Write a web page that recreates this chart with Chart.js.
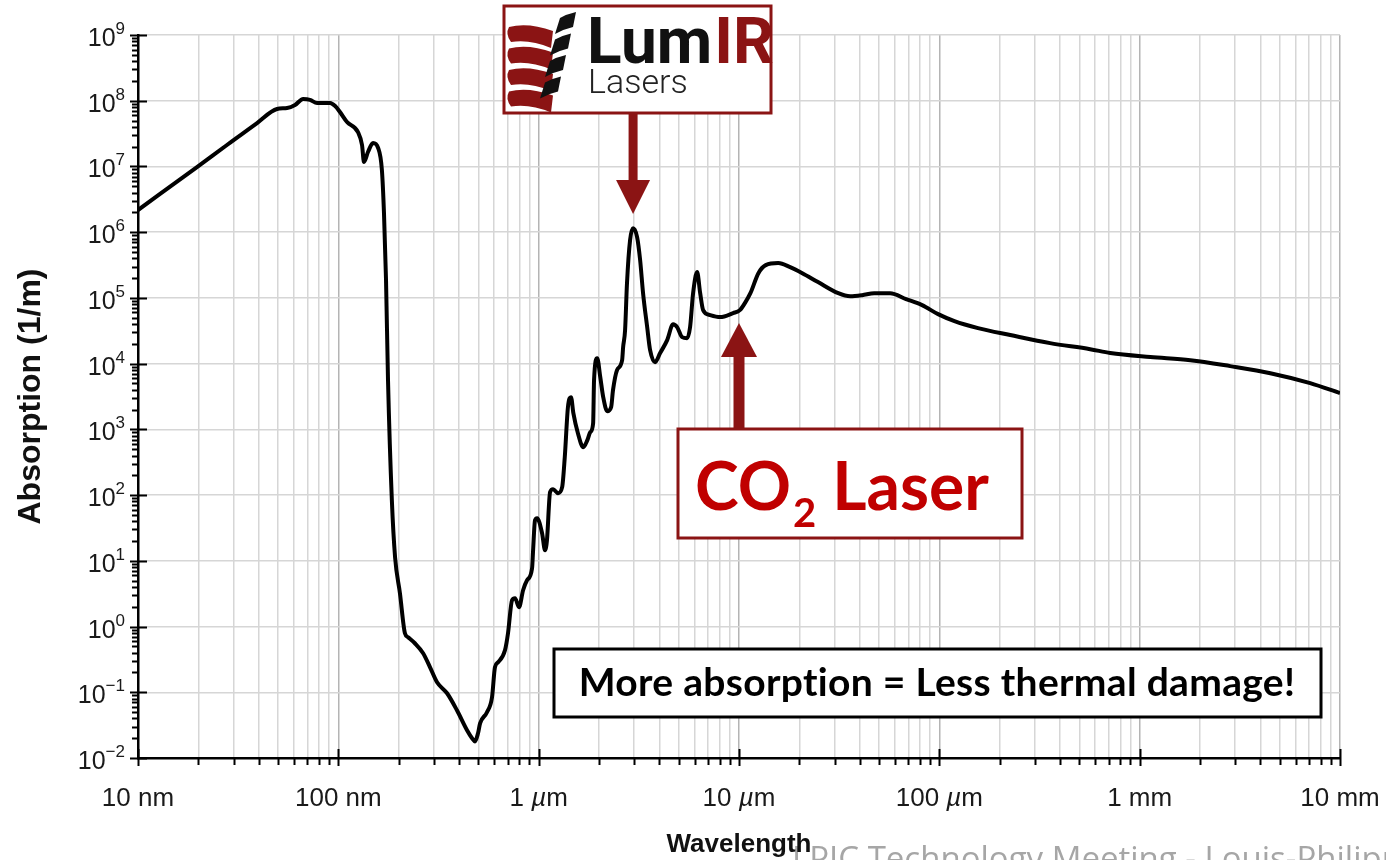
<!DOCTYPE html>
<html>
<head>
<meta charset="utf-8">
<script src="https://cdn.jsdelivr.net/npm/chart.js@4.4.1/dist/chart.umd.min.js"></script>
<style>
html, body { margin: 0; padding: 0; background: #fff; }
canvas { display: block; }
</style>
</head>
<body>
<canvas id="absorptionChart" width="1386" height="860"></canvas>
<script>
// wavelength in micrometres, absorption coefficient in 1/m
const wavelengths = [
    0.01, 0.0197, 0.0278, 0.0393, 0.0494, 0.0555, 0.0608, 0.0667, 0.0722, 0.0783,
    0.0910, 0.0964, 0.1019, 0.1105, 0.1253, 0.1313, 0.1343, 0.1406, 0.149, 0.158,
    0.165, 0.169, 0.173, 0.177, 0.185, 0.192, 0.203, 0.215, 0.223, 0.241,
    0.265, 0.287, 0.311, 0.349, 0.391, 0.439, 0.465, 0.481, 0.498, 0.510,
    0.552, 0.585, 0.605, 0.627, 0.679, 0.703, 0.736, 0.762, 0.798, 0.836,
    0.875, 0.927, 0.938, 0.959, 0.982, 1.04, 1.076, 1.10, 1.14, 1.18,
    1.25, 1.31, 1.35, 1.40, 1.45, 1.49, 1.57, 1.67, 1.75, 1.81,
    1.87, 1.89, 1.96, 2.03, 2.10, 2.20, 2.30, 2.35, 2.46, 2.61,
    2.64, 2.70, 2.76, 2.86, 2.96, 3.10, 3.21, 3.32, 3.48, 3.60,
    3.81, 4.04, 4.38, 4.69, 4.91, 5.20, 5.51, 5.70, 5.90, 6.18,
    6.40, 6.62, 7.18, 8.05, 9.35, 10.1, 10.7, 11.4, 12.5, 13.6,
    15.7, 18.0, 20.7, 24.8, 31.3, 35.9, 41.2, 47.3, 56.8, 68.2,
    82.0, 98.6, 119, 156, 226, 357, 566, 713, 1130, 1790,
    2830, 4490, 7100, 10000
];
const absorption = [
    2.17e6, 9.8e6, 2.12e7, 4.58e7, 7.48e7, 7.74e7, 8.61e7, 1.06e8, 1.03e8, 9.23e7,
    9.23e7, 8.30e7, 6.73e7, 4.74e7, 3.34e7, 2.12e7, 1.17e7, 1.66e7, 2.27e7, 1.91e7,
    8.81e6, 1.95e6, 1.87e5, 5.61e3, 83.6, 11.3, 3.21, 0.791, 0.687, 0.557,
    0.393, 0.240, 0.142, 0.0966, 0.0532, 0.0264, 0.0200, 0.0179, 0.0238, 0.0337,
    0.0497, 0.0839, 0.240, 0.286, 0.436, 0.791, 2.51, 2.70, 1.97, 3.57,
    5.07, 7.71, 14.5, 41.5, 44.5, 26.3, 14.5, 20.6, 111, 123,
    107, 132, 378, 2.18e3, 3.09e3, 1.77e3, 875, 536, 685, 906,
    1.24e3, 5.61e3, 1.21e4, 6.23e3, 3.09e3, 1.89e3, 2.18e3, 3.95e3, 7.96e3, 1.13e4,
    1.78e4, 3.24e4, 1.68e5, 7.59e5, 1.15e6, 8.42e5, 3.76e5, 1.18e5, 3.60e4, 1.60e4,
    1.05e4, 1.45e4, 2.28e4, 3.99e4, 3.60e4, 2.53e4, 2.44e4, 3.60e4, 1.18e5, 2.47e5,
    1.18e5, 6.52e4, 5.47e4, 5.11e4, 5.87e4, 6.52e4, 8.34e4, 1.18e5, 2.38e5, 3.15e5,
    3.39e5, 2.94e5, 2.38e5, 1.74e5, 1.18e5, 1.06e5, 1.10e5, 1.18e5, 1.18e5, 9.59e4,
    7.77e4, 5.66e4, 4.43e4, 3.47e4, 2.72e4, 2.05e4, 1.66e4, 1.45e4, 1.26e4, 1.13e4,
    9.16e3, 7.16e3, 5.05e3, 3.56e3
];

const xDecades = [0.01, 0.1, 1, 10, 100, 1000, 10000];
const xTickLabels = ['10 nm', '100 nm', '1 µm', '10 µm', '100 µm', '1 mm', '10 mm'];
const yDecades = [1e-2, 1e-1, 1, 1e1, 1e2, 1e3, 1e4, 1e5, 1e6, 1e7, 1e8, 1e9];
const yExponents = [-2, -1, 0, 1, 2, 3, 4, 5, 6, 7, 8, 9];

const logoArrowAt = 2.96;   // µm, water peak
const co2ArrowAt = 10;      // µm

// 2..9 x each decade (except past the last)
function minorsOf(decades) {
    const out = [];
    decades.slice(0, -1).forEach(d => {
        for (let k = 2; k <= 9; k++) out.push(d * k);
    });
    return out;
}
const xMinor = minorsOf(xDecades);
const yMinor = minorsOf(yDecades);

function isDecade(v) {
    const l = Math.log10(v);
    return Math.abs(l - Math.round(l)) < 1e-6;
}

const DARK_RED = '#8b1414';
const AXIS_FONT = '"Liberation Sans", Arial, Helvetica, sans-serif';

function drawLogo(ctx) {
    ctx.save();
    ctx.fillStyle = '#fff';
    ctx.fillRect(504, 6, 267, 107);
    ctx.strokeStyle = DARK_RED;
    ctx.lineWidth = 3;
    ctx.strokeRect(504, 6, 267, 107);

    // red barrel bands
    ctx.fillStyle = DARK_RED;
    for (let i = 0; i < 4; i++) {
        const t = 25 + i * 21.5;
        ctx.beginPath();
        ctx.moveTo(509, t + 2);
        ctx.quadraticCurveTo(528, t - 3, 553, t + 6);
        ctx.lineTo(551, t + 23);
        ctx.quadraticCurveTo(530, t + 14, 511, t + 17);
        ctx.quadraticCurveTo(505, t + 9, 509, t + 2);
        ctx.fill();
    }
    // black twisted strips, separated by white gaps
    ctx.fillStyle = '#111';
    for (let i = 0; i < 4; i++) {
        const t = 12 + i * 21.5;
        const s = i * 5;
        ctx.beginPath();
        ctx.moveTo(560 - s, t + 6);
        ctx.quadraticCurveTo(567 - s, t + 2, 576 - s, t);
        ctx.lineTo(573 - s, t + 15);
        ctx.quadraticCurveTo(564 - s, t + 17, 555 - s, t + 22);
        ctx.closePath();
        ctx.fill();
    }

    ctx.textBaseline = 'alphabetic';
    ctx.textAlign = 'left';
    ctx.font = '700 64px Roboto, sans-serif';
    ctx.fillStyle = '#111';
    ctx.fillText('Lum', 587, 63);
    const w = ctx.measureText('Lum').width;
    ctx.fillStyle = DARK_RED;
    ctx.fillText('IR', 587 + w + 2, 63);
    ctx.font = '300 34px Roboto, sans-serif';
    ctx.fillStyle = '#222';
    ctx.fillText('Lasers', 588, 93);
    ctx.restore();
}

function drawArrowDown(ctx, x, top, baseY, tipY, shaftW, headHalf) {
    ctx.fillStyle = DARK_RED;
    ctx.fillRect(x - shaftW / 2, top, shaftW, baseY - top + 1);
    ctx.beginPath();
    ctx.moveTo(x - headHalf, baseY);
    ctx.lineTo(x + headHalf, baseY);
    ctx.lineTo(x, tipY);
    ctx.closePath();
    ctx.fill();
}

function drawArrowUp(ctx, x, bottom, baseY, tipY, shaftW, headHalf) {
    ctx.fillStyle = DARK_RED;
    ctx.fillRect(x - shaftW / 2, baseY - 1, shaftW, bottom - baseY + 1);
    ctx.beginPath();
    ctx.moveTo(x - headHalf, baseY);
    ctx.lineTo(x + headHalf, baseY);
    ctx.lineTo(x, tipY);
    ctx.closePath();
    ctx.fill();
}

function fitFont(ctx, text, weight, family, targetW, maxSize) {
    ctx.font = weight + ' 40px ' + family;
    const s = Math.min(maxSize, 40 * targetW / ctx.measureText(text).width);
    return weight + ' ' + s.toFixed(1) + 'px ' + family;
}

const axisDecor = {
    id: 'axisDecor',
    afterDraw(chart) {
        const { ctx, chartArea: area, scales: { x, y } } = chart;
        ctx.save();

        // tick marks
        ctx.strokeStyle = '#000';
        ctx.lineWidth = 2;
        ctx.beginPath();
        xMinor.forEach(v => {
            const px = Math.round(x.getPixelForValue(v)) + 0.5;
            ctx.moveTo(px, area.bottom);
            ctx.lineTo(px, area.bottom + 7);
        });
        xDecades.forEach(v => {
            const px = Math.round(x.getPixelForValue(v)) + 0.5;
            ctx.moveTo(px, area.bottom - 9);
            ctx.lineTo(px, area.bottom + 8);
        });
        yMinor.forEach(v => {
            const py = Math.round(y.getPixelForValue(v)) + 0.5;
            ctx.moveTo(area.left - 6, py);
            ctx.lineTo(area.left, py);
        });
        yDecades.forEach(v => {
            const py = Math.round(y.getPixelForValue(v)) + 0.5;
            ctx.moveTo(area.left - 8, py);
            ctx.lineTo(area.left + 9, py);
        });
        ctx.stroke();

        // x tick labels, µ in italics
        ctx.fillStyle = '#1a1a1a';
        ctx.textBaseline = 'alphabetic';
        ctx.textAlign = 'left';
        xDecades.forEach((v, i) => {
            const parts = xTickLabels[i].split(/(µ)/).filter(p => p.length);
            const fonts = parts.map(p => (p === 'µ' ? 'italic ' : '') + '26px ' + AXIS_FONT);
            let total = 0;
            const widths = parts.map((p, k) => {
                ctx.font = fonts[k];
                const w = ctx.measureText(p).width;
                total += w;
                return w;
            });
            let cx = x.getPixelForValue(v) - total / 2;
            parts.forEach((p, k) => {
                ctx.font = fonts[k];
                ctx.fillText(p, cx, area.bottom + 48);
                cx += widths[k];
            });
        });

        // y tick labels 10^n
        ctx.textAlign = 'right';
        yDecades.forEach((v, i) => {
            const py = y.getPixelForValue(v);
            const e = yExponents[i];
            const expText = e < 0 ? '\u2212' + (-e) : String(e);
            ctx.font = '17px ' + AXIS_FONT;
            const ew = ctx.measureText(expText).width;
            ctx.fillText(expText, 125, py - 1);
            ctx.font = '25px ' + AXIS_FONT;
            ctx.fillText('10', 125 - ew, py + 11);
        });

        // slide footer (partly off the bottom)
        ctx.textAlign = 'left';
        ctx.font = '33px "Open Sans", sans-serif';
        ctx.fillStyle = '#a6a6a6';
        ctx.fillText('LPIC Technology Meeting - Louis-Philippe', 792, 870);

        // axis titles
        ctx.fillStyle = '#111';
        ctx.textAlign = 'center';
        ctx.font = 'bold 26px ' + AXIS_FONT;
        ctx.fillText('Wavelength', (area.left + area.right) / 2, 852);
        ctx.save();
        ctx.translate(40, (area.top + area.bottom) / 2);
        ctx.rotate(-Math.PI / 2);
        ctx.font = 'bold 32px ' + AXIS_FONT;
        ctx.fillText('Absorption (1/m)', 0, 0);
        ctx.restore();

        // LumIR logo + arrow to the 3 µm peak
        const lx = x.getPixelForValue(logoArrowAt);
        drawArrowDown(ctx, lx, 113, 180, 214, 9, 17);
        drawLogo(ctx);

        // CO2 laser box + arrow
        const cx2 = x.getPixelForValue(co2ArrowAt);
        drawArrowUp(ctx, cx2, 430, 357, 323, 11, 18);
        ctx.fillStyle = '#fff';
        ctx.fillRect(678, 429, 344, 109);
        ctx.strokeStyle = DARK_RED;
        ctx.lineWidth = 3;
        ctx.strokeRect(678, 429, 344, 109);
        ctx.fillStyle = '#c00000';
        ctx.textAlign = 'left';
        const big = 'bold 66px Lato, "Open Sans", sans-serif';
        const sub = 'bold 40px Lato, "Open Sans", sans-serif';
        ctx.font = big;
        const wCO = ctx.measureText('CO').width;
        const wL = ctx.measureText('Laser').width;
        const wSp = ctx.measureText(' ').width;
        ctx.font = sub;
        const w2 = ctx.measureText('2').width;
        let tx = 842 - (wCO + 2 + w2 + wSp + wL) / 2;
        ctx.font = big;
        ctx.fillText('CO', tx, 510);
        tx += wCO + 2;
        ctx.font = sub;
        ctx.fillText('2', tx, 527);
        tx += w2 + wSp;
        ctx.font = big;
        ctx.fillText('Laser', tx, 510);

        // message box
        ctx.fillStyle = '#fff';
        ctx.fillRect(554, 649, 767, 68);
        ctx.strokeStyle = '#000';
        ctx.lineWidth = 3;
        ctx.strokeRect(554, 649, 767, 68);
        ctx.fillStyle = '#000';
        ctx.textAlign = 'center';
        ctx.letterSpacing = '0.3px';
        const msg = 'More absorption = Less thermal damage!';
        ctx.font = fitFont(ctx, msg, 'bold', 'Lato, "Open Sans", sans-serif', 724, 39);
        ctx.fillText(msg, 937, 696);
        ctx.letterSpacing = '0px';

        ctx.restore();
    }
};

const points = wavelengths.map((w, i) => ({ x: w, y: absorption[i] }));

new Chart(document.getElementById('absorptionChart'), {
    type: 'line',
    data: {
        datasets: [{
            data: points,
            borderColor: '#000',
            borderWidth: 4,
            pointRadius: 0,
            fill: false,
            cubicInterpolationMode: 'monotone'
        }]
    },
    options: {
        responsive: false,
        animation: false,
        layout: { padding: { left: 138, right: 46, top: 35, bottom: 102 } },
        plugins: {
            legend: { display: false },
            tooltip: { enabled: false }
        },
        scales: {
            x: {
                type: 'logarithmic',
                min: 0.01,
                max: 10000,
                afterBuildTicks: axis => {
                    axis.ticks = xDecades.concat(xMinor).sort((a, b) => a - b).map(v => ({ value: v }));
                },
                ticks: { display: false },
                grid: {
                    drawTicks: false,
                    lineWidth: 1.5,
                    color: c => (c.tick && isDecade(c.tick.value)) ? '#b4b4b4' : '#d6d6d6'
                },
                border: { display: true, color: '#000', width: 2.5 }
            },
            y: {
                type: 'logarithmic',
                min: 1e-2,
                max: 1e9,
                afterBuildTicks: axis => {
                    axis.ticks = yDecades.map(v => ({ value: v }));
                },
                ticks: { display: false },
                grid: { drawTicks: false, lineWidth: 1.5, color: '#d6d6d6' },
                border: { display: true, color: '#000', width: 2.5 }
            }
        }
    },
    plugins: [axisDecor]
});
</script>
</body>
</html>
